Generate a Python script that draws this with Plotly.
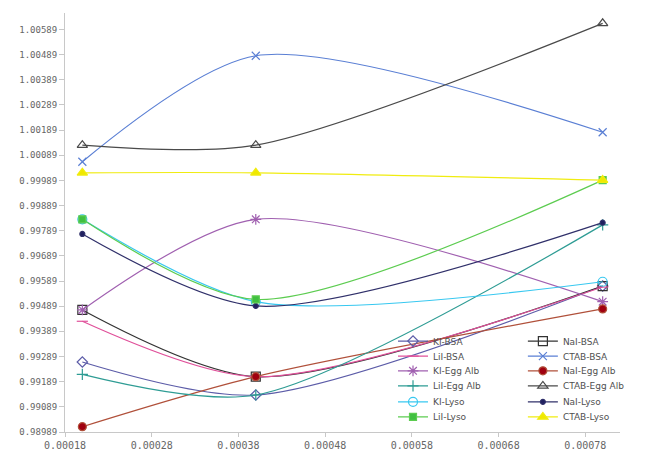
import plotly.graph_objects as go

# Surfactant concentration (x) and relative values for each salt/protein pair
conc = [0.0002, 0.0004, 0.0008]

ki_bsa = [0.99267, 0.99136, 0.99569]
nai_bsa = [0.99474, 0.99209, 0.99569]
lii_bsa = [0.99429, 0.99209, 0.99565]
ctab_bsa = [1.00063, 1.00484, 1.00180]
ki_egg = [0.99474, 0.99834, 0.99507]
nai_egg = [0.99010, 0.99209, 0.99478]
lii_egg = [0.99218, 0.99136, 0.99812]
ctab_egg = [1.00129, 1.00129, 1.00613]
ki_lyso = [0.99834, 0.99507, 0.99586]
nai_lyso = [0.99776, 0.99490, 0.99821]
lii_lyso = [0.99834, 0.99516, 0.99990]
ctab_lyso = [1.00019, 1.00019, 0.99990]

# name, values, line colour, marker symbol, marker size, marker fill, (column, row)
series = [
    ("KI-BSA", ki_bsa, "#5c5ca8", "diamond-open", 8, None, (0, 0)),
    ("NaI-BSA", nai_bsa, "#333333", "square-open", 9, None, (1, 0)),
    ("LiI-BSA", lii_bsa, "#e0509a", "line-ew-open", 8, None, (0, 1)),
    ("CTAB-BSA", ctab_bsa, "#5a7fd4", "x-thin-open", 8, None, (1, 1)),
    ("KI-Egg Alb", ki_egg, "#a060b0", "asterisk-open", 9, None, (0, 2)),
    ("NaI-Egg Alb", nai_egg, "#b0503a", "circle", 8, "#a00010", (1, 2)),
    ("LiI-Egg Alb", lii_egg, "#2e9c94", "cross-thin-open", 8, None, (0, 3)),
    ("CTAB-Egg Alb", ctab_egg, "#4a4a4a", "triangle-up-open", 9, None, (1, 3)),
    ("KI-Lyso", ki_lyso, "#38c8f0", "circle-open", 9, None, (0, 4)),
    ("NaI-Lyso", nai_lyso, "#30306a", "circle", 5, "#202060", (1, 4)),
    ("LiI-Lyso", lii_lyso, "#5ccc50", "square", 7, "#40c040", (0, 5)),
    ("CTAB-Lyso", ctab_lyso, "#f0ec10", "triangle-up", 9, "#f0e800", (1, 5)),
]

legend_font = dict(family="DejaVu Sans", size=9, color="#505050")
col_x = [0.591, 0.825]
row_y = [0.217, 0.181, 0.146, 0.110, 0.072, 0.036]

fig = go.Figure()
legend_layouts = {}
for i, (name, vals, color, symbol, size, fill, (col, row)) in enumerate(series):
    key = "legend" if i == 0 else f"legend{i + 1}"
    marker = dict(symbol=symbol, size=size, color=fill if fill else color,
                  line=dict(color=color, width=1.2))
    fig.add_trace(go.Scatter(
        x=conc, y=vals, name=name, mode="lines+markers",
        line=dict(color=color, width=1.2, shape="spline", smoothing=0.8),
        marker=marker, legend=key, showlegend=True,
    ))
    legend_layouts[key] = dict(
        visible=True,
        x=col_x[col], y=row_y[row], xanchor="left", yanchor="middle",
        bgcolor="rgba(0,0,0,0)", font=legend_font, itemwidth=30,
    )

fig.update_layout(
    width=645, height=453,
    showlegend=True,
    margin=dict(l=65, r=25, t=13, b=21, autoexpand=False),
    paper_bgcolor="white", plot_bgcolor="white",
    xaxis=dict(
        range=[0.00018, 0.00082], tick0=0.00018, dtick=0.0001,
        tickformat=".5f", showgrid=False, zeroline=False, automargin=False,
        showline=True, linecolor="#c8c8c8", linewidth=1,
        ticks="outside", ticklen=4, tickcolor="#c8c8c8",
        tickfont=dict(family="DejaVu Sans Mono", size=10, color="#666666"),
    ),
    yaxis=dict(
        range=[0.98989, 1.00654], tick0=0.98989, dtick=0.001,
        tickformat=".5f", showgrid=False, zeroline=False, automargin=False,
        showline=True, linecolor="#c8c8c8", linewidth=1,
        ticks="outside", ticklen=5, tickcolor="#c8c8c8",
        tickfont=dict(family="DejaVu Sans Mono", size=9, color="#666666"),
    ),
    **legend_layouts,
)

fig.write_html("out.html")
